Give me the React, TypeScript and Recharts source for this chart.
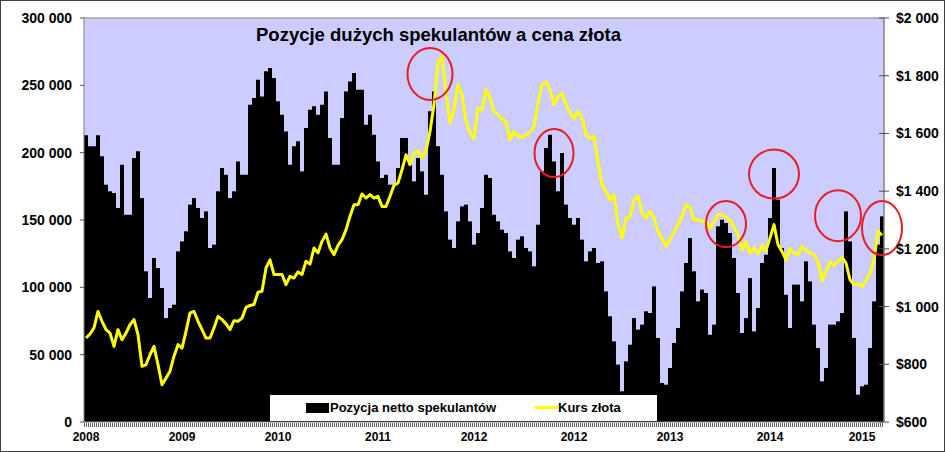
import React from 'react';
import {
  ComposedChart,
  Bar,
  Line,
  XAxis,
  YAxis,
  CartesianGrid,
  ReferenceLine,
  ReferenceDot,
} from 'recharts';

// Net position of large speculators (contracts), ~weekly samples 2008 - early 2015
const netPositions = [
  212900, 204700, 204700, 212900, 197300, 176200, 171300, 170000, 158900, 191100,
  153900, 153900, 196000, 201000, 166300, 111900, 92100, 121800, 114300, 99500,
  77200, 84600, 87100, 126700, 134100, 141600, 161400, 166300, 158900, 151500,
  156400, 129200, 131700, 171300, 188600, 183600, 166300, 171300, 193500, 183600,
  183600, 235600, 240600, 254200, 241800, 260400, 262800, 255400, 238100, 228200,
  215800,
  191100, 204700, 208400, 186100, 218300, 231900, 234400, 228200, 235600, 245500,
  210900, 191100, 191100, 225700, 245500, 252900, 259100, 246800, 246800, 220800,
  228200, 213300, 193500, 181200, 183600, 176200, 176200, 188600, 210900, 210900,
  191100, 178700, 196000, 186100, 168800, 230700, 245500, 204700, 183600, 156400,
  135400, 129200, 149000, 160100, 161400, 149000, 131700, 140300, 158900, 183600,
  181200, 153900, 149000, 142800, 140300, 126700, 121800, 135400, 137900, 129200,
  126700, 115600, 146500, 186100, 203400, 213300, 193500, 171300, 199700, 161400,
  151500, 146500, 151500, 135400, 119300, 126700, 129200, 118100, 119300, 97000,
  78500, 59900, 42600, 22800, 45000, 57400, 77200, 68600, 72300, 82200,
  80900, 100700, 62400, 29000, 27700, 40100, 58700, 69800, 97000, 118100,
  136600, 111900, 89600, 98300, 95800, 64800, 72300, 145300, 150200, 147800,
  140300, 121800, 95800, 66100, 77200, 106900, 67300, 84600, 118100, 124200,
  151500, 188600, 165100, 129200, 94500, 69800, 102000, 102000, 89600, 119300,
  104400, 72300, 54900, 30200, 40100, 72300, 72300, 74700, 80900, 156400,
  134100, 62400, 20300, 26500, 27700, 54900, 89600, 131700, 152700,
];

// Gold price (USD/oz)
const goldPrices = [
  891, 905, 926, 983, 949, 920, 908, 862, 920, 885,
  908, 937, 955, 903, 793, 799, 833, 862, 799, 729,
  752, 776, 828, 868, 856, 914, 978, 983, 949, 920,
  891, 891, 926, 966, 955, 940, 920, 951, 949, 960,
  997, 1004, 1007, 1050, 1053, 1134, 1162, 1111, 1111, 1111,
  1076,
  1105, 1099, 1120, 1111, 1157, 1147, 1203, 1186, 1226, 1251,
  1203, 1180, 1212, 1232, 1266, 1313, 1353, 1353, 1390, 1376,
  1388, 1376, 1382, 1347, 1347, 1382, 1420, 1428, 1474, 1526,
  1492, 1532, 1540, 1515, 1538, 1607, 1700, 1844, 1867, 1746,
  1636, 1682, 1769, 1734, 1642, 1601, 1584, 1688, 1682, 1752,
  1723, 1676, 1665, 1651, 1640, 1578, 1607, 1590, 1586, 1596,
  1605, 1624, 1705, 1769, 1778, 1752, 1700, 1728, 1740, 1700,
  1671, 1653, 1676, 1653, 1596, 1584, 1590, 1503, 1422, 1399,
  1370, 1388, 1284, 1238, 1307, 1313, 1370, 1382, 1324, 1307,
  1330, 1307, 1261, 1235, 1209, 1232, 1258, 1284, 1313, 1353,
  1342, 1301, 1301, 1295, 1293, 1272, 1293, 1318, 1318, 1310,
  1300, 1275, 1249, 1197, 1224, 1186, 1203, 1182, 1212, 1194,
  1238, 1284, 1214, 1191, 1162, 1201, 1186, 1180, 1209, 1194,
  1186, 1180, 1157, 1090, 1122, 1154, 1143, 1157, 1171, 1151,
  1093, 1076, 1078, 1070, 1090, 1116, 1162, 1261, 1247,
];

// Category index (one per sample)
const weekIndex = netPositions.map((_, i) => i);

// Year labels as shown on the category axis
const yearTickIndices = [0, 24, 48, 73, 97, 122, 146, 171, 194];
const yearTickLabels = ['2008', '2009', '2010', '2011', '2012', '2012', '2013', '2014', '2015'];

const positionTicks = [0, 50000, 100000, 150000, 200000, 250000, 300000];
const priceTicks = [600, 800, 1000, 1200, 1400, 1600, 1800, 2000];

// Highlight circles anchored at (sample index, gold price)
const circleIndex = [86, 117, 160, 172, 188, 199];
const circlePrice = [1806, 1532, 1286, 1459, 1315, 1272];
const circleRx = [22.5, 19.5, 20, 25, 23, 20];
const circleRy = [26, 24, 23, 24.5, 25.5, 27];

const TITLE = 'Pozycje dużych spekulantów a cena złota';
const SERIES_POSITION = 'Pozycja netto spekulantów';
const SERIES_GOLD = 'Kurs złota';

const data = weekIndex.map((i) => ({
  idx: i,
  position: netPositions[i],
  gold: goldPrices[i],
}));

const fmt = (n: number) => String(n).replace(/\B(?=(\d{3})+(?!\d))/g, ' ');

const FONT = '"Liberation Sans", Arial, sans-serif';

const XTick = (props: any) => {
  const { x, y, payload } = props;
  const pos = yearTickIndices.indexOf(payload.value);
  return (
    <g>
      <line x1={x - 1.5} x2={x - 1.5} y1={y + 1} y2={y + 5} stroke="#606060" strokeWidth={1} />
      <line x1={x + 0.5} x2={x + 0.5} y1={y + 1} y2={y + 5} stroke="#606060" strokeWidth={1} />
      {pos >= 0 && (
        <text x={x} y={y + 19} textAnchor="middle" fontSize={12} fontWeight="bold" fill="#000" fontFamily={FONT}>
          {yearTickLabels[pos]}
        </text>
      )}
    </g>
  );
};

const LeftTick = (props: any) => {
  const { x, y, payload } = props;
  return (
    <text x={x} y={y} dy={5} textAnchor="end" fontSize={14} fontWeight="bold" fill="#000" fontFamily={FONT}>
      {fmt(payload.value)}
    </text>
  );
};

const RightTick = (props: any) => {
  const { x, y, payload } = props;
  return (
    <g>
      <line x1={x - 17} x2={x - 12} y1={y} y2={y} stroke="#505050" strokeWidth={1} />
      <text x={x} y={y} dy={5} textAnchor="start" fontSize={14} fontWeight="bold" fill="#000" fontFamily={FONT}>
        {'$' + fmt(payload.value)}
      </text>
    </g>
  );
};

export default function App() {
  return (
    <div
      style={{
        position: 'absolute',
        left: 0,
        top: 0,
        width: 945,
        height: 452,
        background: '#fff',
        fontFamily: FONT,
        overflow: 'hidden',
      }}
    >
      <ComposedChart
        width={945}
        height={452}
        data={data}
        margin={{ top: 18, right: 0, bottom: 0, left: 0 }}
        barCategoryGap={0}
        barGap={0}
      >
        <CartesianGrid fill="#CCCCFF" stroke="none" horizontal={false} vertical={false} yAxisId="left" />
        <Bar
          yAxisId="left"
          dataKey="position"
          name={SERIES_POSITION}
          fill="#000000"
          isAnimationActive={false}
        />
        <Line
          yAxisId="right"
          dataKey="gold"
          name={SERIES_GOLD}
          type="linear"
          stroke="#FFFF00"
          strokeWidth={3}
          dot={false}
          strokeLinejoin="round"
          isAnimationActive={false}
        />
        <ReferenceLine yAxisId="left" y={300000} stroke="#808080" strokeWidth={1} />
        <XAxis
          dataKey="idx"
          type="category"
          interval={0}
          height={30}
          tickSize={0}
          tickMargin={0}
          tickLine={false}
          axisLine={{ stroke: '#808080' }}
          tick={XTick}
        />
        <YAxis
          yAxisId="left"
          orientation="left"
          width={84}
          domain={[0, 300000]}
          ticks={positionTicks}
          tickSize={4}
          tickMargin={8}
          tickLine={{ stroke: '#505050' }}
          axisLine={{ stroke: '#808080' }}
          tick={LeftTick}
          interval={0}
        />
        <YAxis
          yAxisId="right"
          orientation="right"
          width={61}
          domain={[600, 2000]}
          ticks={priceTicks}
          tickSize={5}
          tickMargin={7}
          tickLine={{ stroke: '#505050' }}
          axisLine={{ stroke: '#808080', strokeWidth: 1.5 }}
          tick={RightTick}
          interval={0}
        />
        {circleIndex.map((ci, k) => (
          <ReferenceDot
            key={k}
            yAxisId="right"
            x={ci}
            y={circlePrice[k]}
            r={circleRx[k]}
            ifOverflow="visible"
            shape={(p: any) => (
              <ellipse
                cx={p.cx}
                cy={p.cy}
                rx={circleRx[k]}
                ry={circleRy[k]}
                fill="none"
                stroke="#E81C24"
                strokeWidth={2}
              />
            )}
          />
        ))}
      </ComposedChart>

      {/* Title */}
      <div
        style={{
          position: 'absolute',
          left: 256,
          top: 26,
          fontSize: 18.5,
          lineHeight: '18.5px',
          fontWeight: 'bold',
          color: '#000',
          whiteSpace: 'nowrap',
        }}
      >
        {TITLE}
      </div>

      {/* Legend */}
      <div
        style={{
          position: 'absolute',
          left: 270,
          top: 395,
          width: 387,
          height: 26,
          background: '#fff',
        }}
      />
      <div style={{ position: 'absolute', left: 306, top: 403, width: 23, height: 10, background: '#000' }} />
      <div
        style={{
          position: 'absolute',
          left: 330,
          top: 401,
          fontSize: 13,
          lineHeight: '13px',
          fontWeight: 'bold',
          whiteSpace: 'nowrap',
          color: '#000',
        }}
      >
        {SERIES_POSITION}
      </div>
      <div style={{ position: 'absolute', left: 535, top: 406, width: 23, height: 3, background: '#FFFF00' }} />
      <div
        style={{
          position: 'absolute',
          left: 558,
          top: 401,
          fontSize: 13,
          lineHeight: '13px',
          fontWeight: 'bold',
          whiteSpace: 'nowrap',
          color: '#000',
        }}
      >
        {SERIES_GOLD}
      </div>

      {/* Outer frame */}
      <div
        style={{
          position: 'absolute',
          left: 0,
          top: 0,
          width: 945,
          height: 452,
          boxSizing: 'border-box',
          border: '1px solid #404040',
          pointerEvents: 'none',
        }}
      />
    </div>
  );
}
